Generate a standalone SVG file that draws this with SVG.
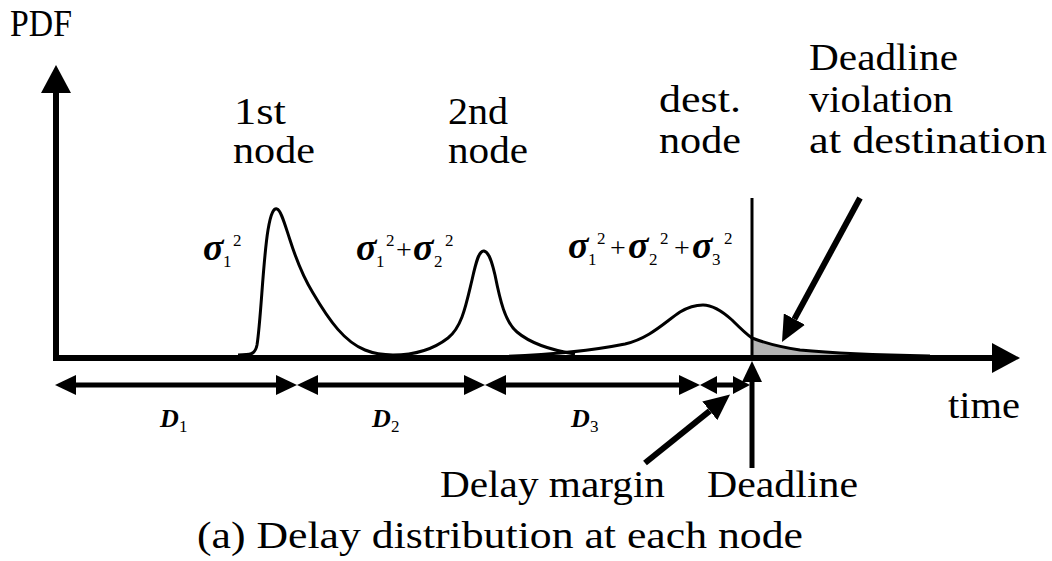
<svg xmlns="http://www.w3.org/2000/svg" width="1052" height="561" viewBox="0 0 1052 561">
<defs>
<style>
.t{font-size:37px}
.s{font-size:17px}
.g{font-size:38px}
.p{font-size:28px}
.ax{stroke:#000;stroke-width:6;fill:none}
.dim{stroke:#000;stroke-width:5;fill:none}
.ptr{stroke:#000;stroke-width:6;fill:none}
.crv{stroke:#000;stroke-width:3;fill:none}
</style>
<marker id="axh" markerUnits="userSpaceOnUse" markerWidth="28" markerHeight="30" refX="0" refY="15" orient="auto"><path d="M0,0 L28,15 L0,30 z" fill="#000"/></marker>
<marker id="dh" markerUnits="userSpaceOnUse" markerWidth="21" markerHeight="20" refX="0" refY="10" orient="auto-start-reverse"><path d="M0,0 L21,10 L0,20 z" fill="#000"/></marker>
<marker id="dhs" markerUnits="userSpaceOnUse" markerWidth="17" markerHeight="18" refX="0" refY="9" orient="auto-start-reverse"><path d="M0,0 L17,9 L0,18 z" fill="#000"/></marker>
<marker id="ph" markerUnits="userSpaceOnUse" markerWidth="26" markerHeight="24" refX="0" refY="12" orient="auto"><path d="M0,0 L26,12 L0,24 z" fill="#000"/></marker>
</defs>
<rect width="1052" height="561" fill="#fff"/>

<g id="shade">
<path d="M752,338 C765,343 780,347 800,350 C830,353 870,355 930,356 L930,358 L752,358 Z" fill="#b4b4b4"/>
</g>

<g id="curves">
<path class="crv" d="M238,355 C250,355 255,355 257,345 C261,320 263,260 268,230 C271,212 274,208 277,209 C281,210 285,225 290,240 C298,265 305,280 313,293 C330,322 345,342 365,350 C375,354 385,355 393,355 C410,355 430,352 448,338 C462,327 466,305 472,280 C476,262 479,250 484,251 C489,252 492,262 495,275 C500,300 505,322 517,332 C530,343 550,350 575,354"/>
<path class="crv" d="M480,357 C540,356 590,351 625,344 C650,338 665,322 680,312 C690,306 697,305 703,305 C712,305 722,311 732,320 C740,328 746,334 752,338 C765,343 780,347 800,350 C830,353 870,355 930,356"/>
</g>

<g id="axes">
<line class="ax" x1="53" y1="358" x2="992" y2="358" marker-end="url(#axh)"/>
<line class="ax" x1="56" y1="361" x2="56" y2="93" marker-end="url(#axh)"/>
<line x1="752" y1="198" x2="752" y2="358" stroke="#000" stroke-width="3"/>
</g>

<g id="connectors">
<line class="dim" x1="76" y1="385" x2="276" y2="385" marker-start="url(#dh)" marker-end="url(#dh)"/>
<line class="dim" x1="318" y1="385" x2="464" y2="385" marker-start="url(#dh)" marker-end="url(#dh)"/>
<line class="dim" x1="506" y1="385" x2="679" y2="385" marker-start="url(#dh)" marker-end="url(#dh)"/>
<line class="dim" x1="717" y1="385" x2="733" y2="385" marker-start="url(#dhs)" marker-end="url(#dhs)"/>
<line class="dim" x1="752" y1="468" x2="752" y2="382" marker-end="url(#dh)"/>
<line class="ptr" x1="645" y1="463" x2="709.8" y2="410.8" marker-end="url(#ph)"/>
<line class="ptr" x1="860" y1="198" x2="794.4" y2="319.1" marker-end="url(#ph)"/>
</g>

<g id="labels">
<text class="t" font-family="Liberation Serif" x="10" y="36" textLength="62" lengthAdjust="spacingAndGlyphs">PDF</text>
<text class="t" font-family="Liberation Serif" x="948" y="418" textLength="72" lengthAdjust="spacingAndGlyphs">time</text>
</g>

<g id="node1">
<text class="t" font-family="Liberation Serif" x="234" y="124" textLength="52" lengthAdjust="spacingAndGlyphs">1st</text>
<text class="t" font-family="Liberation Serif" x="233" y="163" textLength="82" lengthAdjust="spacingAndGlyphs">node</text>
</g>
<g id="node2">
<text class="t" font-family="Liberation Serif" x="448" y="124" textLength="60" lengthAdjust="spacingAndGlyphs">2nd</text>
<text class="t" font-family="Liberation Serif" x="448" y="163" textLength="80" lengthAdjust="spacingAndGlyphs">node</text>
</g>
<g id="node3">
<text class="t" font-family="Liberation Serif" x="659" y="112" textLength="82" lengthAdjust="spacingAndGlyphs">dest.</text>
<text class="t" font-family="Liberation Serif" x="659" y="153" textLength="82" lengthAdjust="spacingAndGlyphs">node</text>
</g>
<g id="violation">
<text class="t" font-family="Liberation Serif" x="809" y="70" textLength="149" lengthAdjust="spacingAndGlyphs">Deadline</text>
<text class="t" font-family="Liberation Serif" x="809" y="112" textLength="144" lengthAdjust="spacingAndGlyphs">violation</text>
<text class="t" font-family="Liberation Serif" x="809" y="153" textLength="238" lengthAdjust="spacingAndGlyphs">at destination</text>
</g>
<g id="margin">
<text class="t" font-family="Liberation Serif" x="440" y="497" textLength="225" lengthAdjust="spacingAndGlyphs">Delay margin</text>
</g>
<g id="deadline">
<text class="t" font-family="Liberation Serif" x="707" y="497" textLength="151" lengthAdjust="spacingAndGlyphs">Deadline</text>
</g>
<g id="caption">
<text class="t" font-family="Liberation Serif" x="197" y="548" textLength="606" lengthAdjust="spacingAndGlyphs">(a) Delay distribution at each node</text>
</g>

<g id="sigma1">
<text class="g" font-family="Liberation Serif" font-style="italic" font-weight="bold" x="203" y="260">σ</text>
<text class="s" font-family="Liberation Serif" x="223" y="267">1</text>
<text class="s" font-family="Liberation Serif" x="233" y="246">2</text>
</g>
<g id="sigma2">
<text class="g" font-family="Liberation Serif" font-style="italic" font-weight="bold" x="356" y="260">σ</text>
<text class="s" font-family="Liberation Serif" x="376" y="267">1</text>
<text class="s" font-family="Liberation Serif" x="386" y="246">2</text>
<text class="p" font-family="Liberation Serif" x="396" y="259">+</text>
<text class="g" font-family="Liberation Serif" font-style="italic" font-weight="bold" x="413" y="260">σ</text>
<text class="s" font-family="Liberation Serif" x="434" y="267">2</text>
<text class="s" font-family="Liberation Serif" x="445" y="246">2</text>
</g>
<g id="sigma3">
<text class="g" font-family="Liberation Serif" font-style="italic" font-weight="bold" x="568" y="258">σ</text>
<text class="s" font-family="Liberation Serif" x="588" y="265">1</text>
<text class="s" font-family="Liberation Serif" x="597" y="244">2</text>
<text class="p" font-family="Liberation Serif" x="610" y="257">+</text>
<text class="g" font-family="Liberation Serif" font-style="italic" font-weight="bold" x="628" y="258">σ</text>
<text class="s" font-family="Liberation Serif" x="649" y="265">2</text>
<text class="s" font-family="Liberation Serif" x="660" y="244">2</text>
<text class="p" font-family="Liberation Serif" x="674" y="257">+</text>
<text class="g" font-family="Liberation Serif" font-style="italic" font-weight="bold" x="692" y="258">σ</text>
<text class="s" font-family="Liberation Serif" x="712" y="265">3</text>
<text class="s" font-family="Liberation Serif" x="724" y="244">2</text>
</g>
<g id="dlabels">
<text font-family="Liberation Serif" font-style="italic" font-weight="bold" x="160" y="427" font-size="26">D</text>
<text class="s" font-family="Liberation Serif" x="179" y="432">1</text>
<text font-family="Liberation Serif" font-style="italic" font-weight="bold" x="372" y="427" font-size="26">D</text>
<text class="s" font-family="Liberation Serif" x="391" y="432">2</text>
<text font-family="Liberation Serif" font-style="italic" font-weight="bold" x="571" y="427" font-size="26">D</text>
<text class="s" font-family="Liberation Serif" x="590" y="432">3</text>
</g>
</svg>
